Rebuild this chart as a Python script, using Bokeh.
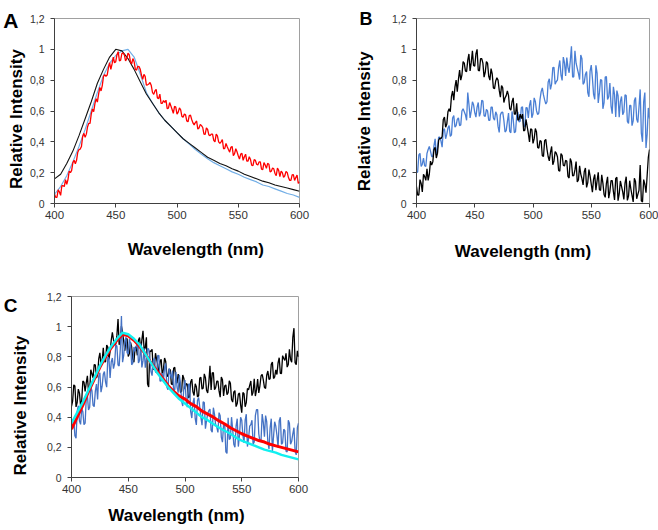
import json
from bokeh.plotting import figure
from bokeh.models import Range1d, FixedTicker, CustomJSTickFormatter, LinearAxis
from bokeh.layouts import column, row
from bokeh.embed import file_html
from bokeh.resources import INLINE

# ---------------- data ----------------
X_TICKS = [400, 450, 500, 550, 600]
Y_TICKS = [0, 0.2, 0.4, 0.6, 0.8, 1.0, 1.2]

WL5 = list(range(400, 601, 5))   # 5 nm grid (smooth spectra)
WL1 = list(range(400, 601, 1))   # 1 nm grid (noisy spectra)

# Panel A
A_black = [0.16, 0.19, 0.26, 0.34, 0.44, 0.55, 0.66, 0.78, 0.87, 0.95, 1.00, 0.99, 0.94, 0.87, 0.79,
           0.71, 0.65, 0.59, 0.54, 0.50, 0.46, 0.42, 0.39, 0.36, 0.33, 0.30, 0.28, 0.26, 0.245, 0.225,
           0.21, 0.19, 0.175, 0.16, 0.145, 0.135, 0.12, 0.11, 0.10, 0.09, 0.08]
A_blue = [0.06, 0.11, 0.18, 0.27, 0.37, 0.48, 0.60, 0.72, 0.83, 0.91, 0.96, 0.99, 1.00, 0.95, 0.84,
          0.72, 0.65, 0.59, 0.54, 0.50, 0.46, 0.42, 0.385, 0.35, 0.32, 0.29, 0.265, 0.245, 0.225, 0.205,
          0.19, 0.17, 0.155, 0.14, 0.12, 0.11, 0.095, 0.08, 0.065, 0.055, 0.04]
A_red = [.06, .04, .04, .088, .075, .053, .115, .115, .11, .155, .125, .155, .21, .20, .215, .265, .28, .258, .28, .333,
         .35, .353, .37, .435, .455, .43, .45, .498, .52, .52, .58, .613, .595, .648, .68, .658, .71, .753, .73, .765,
         .825, .835, .825, .833, .88, .913, .87, .905, .95, .913, .92, .965, .985, .925, .93, .973, .975, .965, .925, .94,
         .975, .965, .92, .905, .94, .92, .87, .865, .89, .888, .87, .833, .805, .838, .825, .768, .77, .775, .785, .765,
         .72, .708, .73, .74, .685, .68, .71, .65, .65, .668, .655, .67, .615, .618, .655, .633, .61, .585, .63, .625,
         .58, .593, .62, .608, .565, .56, .58, .575, .535, .53, .57, .573, .545, .523, .51, .525, .535, .483, .49, .513,
         .505, .493, .45, .448, .49, .48, .445, .44, .45, .45, .41, .40, .45, .438, .40, .39, .40, .415, .355, .358,
         .39, .368, .35, .333, .365, .37, .31, .323, .355, .335, .31, .288, .32, .325, .28, .303, .32, .275, .275, .303,
         .285, .248, .245, .285, .28, .255, .25, .27, .27, .223, .22, .265, .25, .228, .26, .255, .205, .21, .23, .225,
         .195, .18, .23, .215, .175, .21, .20, .17, .18, .208, .20, .168, .15, .15, .185, .188, .15, .168, .185, .13, .14]

# Panel B
B_black = [.11, .055, .055, .155, .13, .075, .19, .175, .15, .225, .15, .19, .275, .25, .27, .35, .365, .295, .325, .41,
           .425, .42, .435, .545, .56, .495, .515, .595, .615, .595, .695, .73, .67, .755, .80, .725, .805, .865, .80, .835,
           .92, .91, .86, .855, .93, .97, .86, .915, .99, .895, .89, .97, 1.00, .865, .86, .94, .94, .91, .82, .85,
           .92, .91, .825, .80, .875, .84, .75, .745, .795, .815, .80, .735, .69, .765, .75, .655, .685, .70, .73, .70,
           .615, .605, .66, .685, .58, .58, .65, .54, .545, .58, .55, .58, .47, .475, .545, .50, .455, .40, .485, .48,
           .39, .419, .486, .464, .364, .359, .408, .404, .31, .305, .408, .416, .352, .305, .276, .332, .37, .251, .276, .337,
           .326, .303, .214, .209, .324, .313, .248, .243, .28, .276, .176, .165, .292, .269, .18, .181, .218, .272, .14, .153,
           .244, .191, .162, .121, .206, .23, .104, .135, .22, .179, .126, .073, .158, .188, .086, .147, .202, .089, .084, .186,
           .132, .059, .04, .131, .173, .035, .079, .149, .149, .079, .023, .163, .17, .018, .062, .146, .111, .076, .027, .132,
           .174, .02, .048, .148, .094, .052, .01, .164, .143, .031, .059, .087, .25, .017, .01, .155, .125, .07, .183, .30, .35]
B_blue = [.20, .205, .315, .325, .24, .255, .295, .245, .24, .325, .35, .37, .34, .305, .305, .375, .42, .315, .36, .43,
          .43, .405, .365, .475, .485, .42, .45, .49, .505, .435, .445, .555, .57, .495, .505, .545, .555, .505, .51, .60,
          .615, .595, .575, .54, .72, .645, .555, .60, .66, .64, .59, .56, .625, .655, .565, .59, .67, .665, .57, .565,
          .61, .60, .54, .54, .625, .625, .555, .54, .595, .575, .50, .461, .575, .591, .593, .539, .464, .473, .531, .587,
          .468, .459, .597, .546, .46, .465, .568, .594, .529, .534, .623, .628, .50, .498, .622, .62, .555, .637, .67, .556,
          .582, .685, .662, .602, .577, .587, .674, .726, .75, .704, .672, .645, .66, .787, .809, .74, .776, .882, .883, .774,
          .791, .801, .881, .928, .835, .798, .95, .913, .827, .946, .883, .848, .925, 1.02, .82, .822, .99, .91, .877, .844,
          .804, .963, .94, .773, .786, .839, .856, .72, .692, .858, .898, .812, .708, .676, .896, .846, .652, .719, .804, .799,
          .614, .654, .82, .824, .675, .692, .781, .632, .582, .757, .707, .562, .732, .70, .56, .663, .694, .576, .593, .705,
          .70, .533, .519, .636, .636, .505, .536, .666, .688, .548, .525, .628, .74, .456, .40, .66, .72, .36, .45, .62, .55]

# Panel C
C_black = [.472, .507, .614, .607, .468, .497, .586, .561, .476, .51, .64, .632, .57, .628, .674, .569, .578, .714, .688, .661,
           .748, .746, .66, .681, .786, .826, .752, .773, .86, .768, .766, .878, .864, .783, .834, .91, .962, .912, .88, .884,
           .942, 1.05, .88, .897, 1.004, .959, .902, .84, .922, .919, .802, .822, .896, .867, .784, .764, .858, .867, .81, .911,
           .928, .836, .912, .972, .846, .861, .93, .62, .60, .84, .836, .85, .714, .733, .824, .783, .748, .678, .77, .783,
           .676, .719, .792, .769, .68, .669, .718, .714, .62, .615, .724, .731, .642, .625, .686, .652, .564, .571, .68, .657,
           .586, .623, .618, .529, .536, .633, .652, .568, .544, .621, .602, .535, .54, .659, .664, .586, .592, .687, .662, .578,
           .56, .631, .74, .581, .694, .695, .582, .595, .638, .639, .574, .533, .666, .648, .54, .607, .614, .549, .562, .641,
           .624, .517, .50, .568, .576, .47, .49, .552, .56, .482, .43, .564, .556, .469, .496, .59, .582, .611, .64, .543,
           .566, .655, .54, .581, .652, .561, .608, .673, .684, .647, .598, .59, .678, .706, .65, .655, .75, .766, .656, .667,
           .714, .683, .76, .794, .69, .689, .808, .789, .776, .823, .732, .749, .85, .783, .764, .93, .99, .761, .748, .84, .80]
C_blue = [.328, .384, .384, .277, .26, .439, .476, .374, .352, .458, .436, .35, .36, .527, .542, .448, .466, .601, .576, .479,
          .47, .573, .62, .518, .672, .695, .566, .605, .684, .702, .632, .599, .798, .789, .66, .766, .792, .722, .756, .878,
          .872, .746, .74, .854, 1.07, .765, .81, .906, .93, .826, .818, .917, .888, .747, .758, .865, .836, .868, .90, .759,
          .778, .89, .73, .773, .856, .728, .784, .854, .852, .786, .704, .675, .774, .793, .70, .695, .81, .808, .638, .641,
          .692, .639, .73, .757, .60, .582, .724, .687, .658, .709, .576, .582, .70, .599, .562, .68, .622, .508, .474, .60,
          .646, .516, .466, .616, .622, .436, .394, .493, .528, .39, .348, .511, .53, .469, .40, .347, .502, .497, .324, .378,
          .424, .443, .454, .313, .30, .463, .418, .349, .336, .299, .43, .409, .268, .234, .352, .355, .17, .16, .396, .252,
          .26, .40, .32, .22, .20, .34, .39, .205, .28, .40, .38, .28, .23, .38, .42, .205, .26, .34, .35, .38,
          .22, .235, .41, .45, .45, .29, .24, .245, .42, .365, .27, .41, .37, .235, .19, .33, .39, .175, .27, .37,
          .34, .28, .20, .375, .40, .22, .23, .32, .31, .175, .17, .38, .36, .22, .24, .29, .33, .175, .15, .33, .36]
C_red = [0.32, 0.40, 0.48, 0.57, 0.65, 0.73, 0.80, 0.86, 0.91, 0.95, 0.94, 0.91, 0.87, 0.82, 0.76,
         0.71, 0.66, 0.61, 0.57, 0.54, 0.52, 0.49, 0.47, 0.44, 0.42, 0.40, 0.375, 0.355, 0.33, 0.31,
         0.29, 0.275, 0.26, 0.245, 0.235, 0.22, 0.21, 0.20, 0.19, 0.18, 0.17]
C_cyan = [0.36, 0.43, 0.50, 0.58, 0.66, 0.74, 0.81, 0.87, 0.92, 0.96, 0.95, 0.92, 0.88, 0.82, 0.76,
          0.70, 0.65, 0.60, 0.56, 0.52, 0.49, 0.46, 0.43, 0.40, 0.38, 0.355, 0.33, 0.31, 0.29, 0.265,
          0.245, 0.23, 0.215, 0.20, 0.185, 0.175, 0.165, 0.15, 0.14, 0.13, 0.12]

FONT = "Liberation Sans"
TITLE_Y = "Relative Intensity"
TITLE_X = "Wavelength (nm)"


def make_panel(width, height, bl, br, bt, bb):
    p = figure(width=width, height=height, x_range=Range1d(400, 600), y_range=Range1d(0, 1.2),
               output_backend="svg", toolbar_location=None,
               min_border_left=bl, min_border_right=br, min_border_top=bt, min_border_bottom=bb,
               background_fill_color="white", border_fill_color="white")
    p.grid.visible = False
    p.outline_line_color = "#a0a0a0"
    p.outline_line_width = 1
    for ax in (p.xaxis, p.yaxis):
        ax.axis_line_color = "#404040"
        ax.major_tick_line_color = "#404040"
        ax.major_tick_out = 4
        ax.major_tick_in = 0
        ax.minor_tick_line_color = None
        ax.minor_tick_out = 0
        ax.minor_tick_in = 0
        ax.major_label_text_font = FONT
        ax.major_label_text_color = "#333333"
    p.xaxis.ticker = FixedTicker(ticks=X_TICKS)
    p.yaxis.ticker = FixedTicker(ticks=Y_TICKS)
    p.yaxis.formatter = CustomJSTickFormatter(code="return String(tick).replace('.', ',');")
    p.xaxis.major_label_text_font_size = "11.5px"
    p.yaxis.major_label_text_font_size = "10.5px"
    p.xaxis.major_label_standoff = 3
    p.yaxis.major_label_standoff = 6
    return p


def text_axis(p, side, pos, text, size, standoff, orientation="horizontal"):
    """An extra, line-less axis whose single tick label carries a text (title / panel letter)."""
    ax = LinearAxis(ticker=FixedTicker(ticks=[pos]),
                    formatter=CustomJSTickFormatter(code="return %s;" % json.dumps(text)))
    ax.axis_line_color = None
    ax.major_tick_line_color = None
    ax.minor_tick_line_color = None
    ax.major_tick_out = 0
    ax.major_tick_in = 0
    ax.minor_tick_out = 0
    ax.minor_tick_in = 0
    ax.major_label_standoff = standoff
    ax.major_label_orientation = orientation
    ax.major_label_text_font = FONT
    ax.major_label_text_font_style = "bold"
    ax.major_label_text_font_size = f"{size}px"
    ax.major_label_text_color = "black"
    p.add_layout(ax, side)


# Panel A  (page origin 0,0)
pA = make_panel(330, 264, 53, 31, 18, 61)
pA.line(WL5, A_blue, line_color="#72aee6", line_width=1.2)
pA.line(WL5, A_black, line_color="#111111", line_width=1.1)
pA.line(WL1, A_red, line_color="#ff0000", line_width=1.3)
text_axis(pA, "left", 1.184, "A", 21, 8)
text_axis(pA, "left", 0.548, TITLE_Y, 17, -26, "vertical")
text_axis(pA, "below", 515.4, TITLE_X, 17, 18)

# Panel B  (page origin 330,0)
pB = make_panel(328, 264, 86, 9, 14, 61)
pB.line(WL1, B_blue, line_color="#4a7fd4", line_width=1.3)
pB.line(WL1, B_black, line_color="#000000", line_width=1.3)
text_axis(pB, "left", 1.2, "B", 18, 16)
text_axis(pB, "left", 0.533, TITLE_Y, 17, -18, "vertical")
text_axis(pB, "below", 491.4, TITLE_X, 17, 20)

# Panel C  (page origin 0,264)
pC = make_panel(330, 266, 71, 32, 32, 53)
pC.line(WL1, C_black, line_color="#000000", line_width=1.3)
pC.line(WL1, C_blue, line_color="#4472c4", line_width=1.3)
pC.line(WL5, C_red, line_color="#ff0000", line_width=3)
pC.line(WL5, C_cyan, line_color="#10f0f0", line_width=2.5)
text_axis(pC, "left", 1.140, "C", 19, 26)
text_axis(pC, "left", 0.477, TITLE_Y, 17, -30, "vertical")
text_axis(pC, "below", 492.5, TITLE_X, 17, 10)

layout = column(row(pA, pB), pC)
open("out.html", "w").write(file_html(layout, INLINE))
